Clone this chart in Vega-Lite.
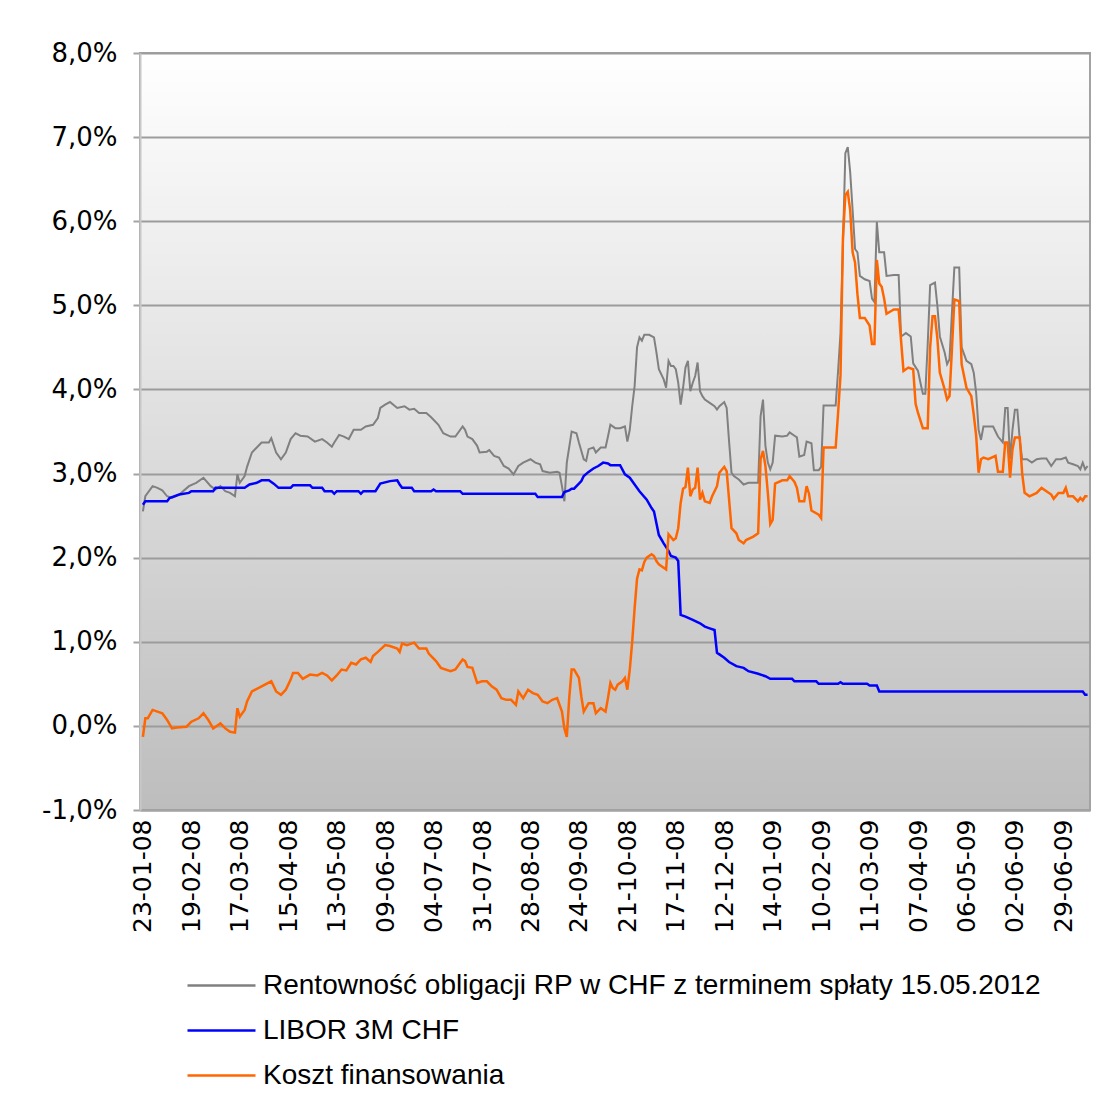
{
  "$schema": "https://vega.github.io/schema/vega-lite/v6.json",
  "width": 950,
  "height": 757,
  "autosize": {"type": "none"},
  "padding": {"left": 140, "top": 53, "right": 22, "bottom": 289},
  "background": "#ffffff",
  "config": {
    "font": "DejaVu Sans",
    "view": {
      "fill": {"gradient": "linear", "x1": 0, "y1": 0, "x2": 0, "y2": 1,
        "stops": [{"offset": 0, "color": "#ffffff"}, {"offset": 1, "color": "#bdbdbd"}]},
      "stroke": "#a3a3a3",
      "strokeWidth": 2
    }
  },
  "datasets": {
    "g": [
      {"i":0,"v":2.55},{"i":1,"v":2.73},{"i":4,"v":2.85},{"i":6,"v":2.83},{"i":8,"v":2.80},{"i":10,"v":2.73},{"i":12,"v":2.71},{"i":15,"v":2.75},{"i":19,"v":2.85},{"i":22,"v":2.89},{"i":25,"v":2.95},{"i":28,"v":2.85},{"i":30,"v":2.81},{"i":32,"v":2.85},{"i":34,"v":2.79},{"i":36,"v":2.77},{"i":38,"v":2.73},{"i":39,"v":2.99},{"i":40,"v":2.89},{"i":42,"v":2.97},{"i":43,"v":3.08},{"i":45,"v":3.25},{"i":47,"v":3.31},{"i":49,"v":3.37},{"i":52,"v":3.37},{"i":53,"v":3.42},{"i":55,"v":3.25},{"i":57,"v":3.17},{"i":59,"v":3.25},{"i":61,"v":3.41},{"i":63,"v":3.48},{"i":65,"v":3.45},{"i":68,"v":3.44},{"i":71,"v":3.38},{"i":74,"v":3.41},{"i":76,"v":3.37},{"i":78,"v":3.32},{"i":79,"v":3.37},{"i":81,"v":3.46},{"i":83,"v":3.44},{"i":85,"v":3.41},{"i":87,"v":3.52},{"i":90,"v":3.52},{"i":92,"v":3.56},{"i":95,"v":3.58},{"i":97,"v":3.66},{"i":98,"v":3.78},{"i":100,"v":3.82},{"i":102,"v":3.85},{"i":105,"v":3.78},{"i":108,"v":3.80},{"i":110,"v":3.76},{"i":112,"v":3.77},{"i":114,"v":3.72},{"i":117,"v":3.72},{"i":119,"v":3.67},{"i":122,"v":3.58},{"i":124,"v":3.48},{"i":127,"v":3.44},{"i":129,"v":3.44},{"i":132,"v":3.56},{"i":133,"v":3.52},{"i":134,"v":3.44},{"i":136,"v":3.41},{"i":138,"v":3.33},{"i":139,"v":3.25},{"i":142,"v":3.26},{"i":143,"v":3.28},{"i":145,"v":3.21},{"i":147,"v":3.19},{"i":149,"v":3.09},{"i":151,"v":3.06},{"i":153,"v":2.99},{"i":155,"v":3.09},{"i":157,"v":3.13},{"i":160,"v":3.17},{"i":162,"v":3.13},{"i":164,"v":3.11},{"i":165,"v":3.03},{"i":168,"v":3.01},{"i":171,"v":3.02},{"i":172,"v":3.01},{"i":173,"v":2.85},{"i":174,"v":2.67},{"i":175,"v":3.13},{"i":177,"v":3.50},{"i":179,"v":3.48},{"i":180,"v":3.37},{"i":182,"v":3.17},{"i":183,"v":3.15},{"i":184,"v":3.29},{"i":186,"v":3.31},{"i":187,"v":3.25},{"i":189,"v":3.31},{"i":191,"v":3.31},{"i":192,"v":3.44},{"i":193,"v":3.58},{"i":195,"v":3.54},{"i":197,"v":3.54},{"i":199,"v":3.56},{"i":200,"v":3.38},{"i":201,"v":3.52},{"i":202,"v":3.80},{"i":203,"v":4.04},{"i":204,"v":4.50},{"i":205,"v":4.62},{"i":206,"v":4.58},{"i":207,"v":4.65},{"i":209,"v":4.65},{"i":211,"v":4.62},{"i":212,"v":4.44},{"i":213,"v":4.24},{"i":215,"v":4.12},{"i":216,"v":4.02},{"i":217,"v":4.34},{"i":218,"v":4.28},{"i":219,"v":4.28},{"i":220,"v":4.24},{"i":221,"v":4.08},{"i":222,"v":3.82},{"i":223,"v":4.02},{"i":224,"v":4.26},{"i":225,"v":4.34},{"i":226,"v":3.98},{"i":227,"v":4.08},{"i":228,"v":4.16},{"i":229,"v":4.32},{"i":230,"v":3.98},{"i":231,"v":3.92},{"i":232,"v":3.88},{"i":234,"v":3.84},{"i":236,"v":3.80},{"i":237,"v":3.76},{"i":238,"v":3.80},{"i":240,"v":3.85},{"i":241,"v":3.78},{"i":242,"v":3.38},{"i":243,"v":3.01},{"i":244,"v":2.97},{"i":246,"v":2.93},{"i":248,"v":2.87},{"i":250,"v":2.89},{"i":254,"v":2.89},{"i":255,"v":3.68},{"i":256,"v":3.88},{"i":257,"v":3.33},{"i":258,"v":3.13},{"i":259,"v":3.05},{"i":260,"v":3.13},{"i":261,"v":3.45},{"i":264,"v":3.44},{"i":266,"v":3.45},{"i":267,"v":3.49},{"i":269,"v":3.45},{"i":270,"v":3.43},{"i":271,"v":3.20},{"i":273,"v":3.22},{"i":274,"v":3.38},{"i":276,"v":3.36},{"i":277,"v":3.04},{"i":279,"v":3.04},{"i":280,"v":3.08},{"i":281,"v":3.81},{"i":283,"v":3.81},{"i":286,"v":3.81},{"i":287,"v":4.22},{"i":288,"v":4.67},{"i":289,"v":5.72},{"i":290,"v":6.81},{"i":291,"v":6.88},{"i":292,"v":6.58},{"i":293,"v":6.13},{"i":294,"v":5.67},{"i":295,"v":5.63},{"i":296,"v":5.35},{"i":298,"v":5.31},{"i":300,"v":5.29},{"i":301,"v":5.08},{"i":302,"v":5.04},{"i":303,"v":5.99},{"i":304,"v":5.63},{"i":306,"v":5.63},{"i":307,"v":5.35},{"i":310,"v":5.36},{"i":312,"v":5.36},{"i":313,"v":4.63},{"i":315,"v":4.67},{"i":317,"v":4.63},{"i":318,"v":4.31},{"i":320,"v":4.22},{"i":321,"v":4.08},{"i":322,"v":3.95},{"i":323,"v":3.95},{"i":324,"v":4.54},{"i":325,"v":5.24},{"i":327,"v":5.27},{"i":328,"v":4.99},{"i":329,"v":4.63},{"i":331,"v":4.44},{"i":332,"v":4.30},{"i":333,"v":4.36},{"i":334,"v":4.91},{"i":335,"v":5.45},{"i":337,"v":5.45},{"i":338,"v":4.50},{"i":340,"v":4.34},{"i":342,"v":4.30},{"i":343,"v":4.20},{"i":344,"v":3.96},{"i":345,"v":3.52},{"i":346,"v":3.40},{"i":347,"v":3.56},{"i":351,"v":3.56},{"i":353,"v":3.44},{"i":355,"v":3.37},{"i":356,"v":3.78},{"i":357,"v":3.78},{"i":358,"v":3.17},{"i":359,"v":3.52},{"i":360,"v":3.76},{"i":361,"v":3.76},{"i":362,"v":3.40},{"i":363,"v":3.17},{"i":365,"v":3.17},{"i":367,"v":3.13},{"i":369,"v":3.17},{"i":371,"v":3.18},{"i":373,"v":3.18},{"i":375,"v":3.09},{"i":377,"v":3.17},{"i":379,"v":3.17},{"i":381,"v":3.19},{"i":382,"v":3.13},{"i":384,"v":3.11},{"i":386,"v":3.09},{"i":387,"v":3.05},{"i":388,"v":3.13},{"i":389,"v":3.05},{"i":390,"v":3.09}
    ],
    "b": [
      {"i":0,"v":2.63},{"i":1,"v":2.67},{"i":10,"v":2.67},{"i":11,"v":2.71},{"i":15,"v":2.75},{"i":19,"v":2.77},{"i":20,"v":2.79},{"i":29,"v":2.79},{"i":30,"v":2.83},{"i":42,"v":2.83},{"i":44,"v":2.87},{"i":47,"v":2.89},{"i":49,"v":2.92},{"i":52,"v":2.92},{"i":54,"v":2.88},{"i":56,"v":2.83},{"i":61,"v":2.83},{"i":62,"v":2.86},{"i":69,"v":2.86},{"i":70,"v":2.83},{"i":74,"v":2.83},{"i":75,"v":2.79},{"i":78,"v":2.79},{"i":79,"v":2.76},{"i":80,"v":2.79},{"i":89,"v":2.79},{"i":90,"v":2.76},{"i":91,"v":2.79},{"i":96,"v":2.79},{"i":98,"v":2.88},{"i":102,"v":2.91},{"i":105,"v":2.92},{"i":106,"v":2.87},{"i":107,"v":2.83},{"i":111,"v":2.83},{"i":112,"v":2.79},{"i":119,"v":2.79},{"i":120,"v":2.81},{"i":121,"v":2.79},{"i":131,"v":2.79},{"i":132,"v":2.76},{"i":162,"v":2.76},{"i":163,"v":2.72},{"i":173,"v":2.72},{"i":174,"v":2.78},{"i":176,"v":2.80},{"i":177,"v":2.82},{"i":178,"v":2.82},{"i":180,"v":2.88},{"i":181,"v":2.91},{"i":182,"v":2.97},{"i":184,"v":3.02},{"i":186,"v":3.06},{"i":188,"v":3.09},{"i":190,"v":3.13},{"i":192,"v":3.12},{"i":193,"v":3.10},{"i":197,"v":3.10},{"i":199,"v":2.99},{"i":201,"v":2.95},{"i":203,"v":2.87},{"i":205,"v":2.79},{"i":208,"v":2.69},{"i":210,"v":2.59},{"i":211,"v":2.55},{"i":212,"v":2.41},{"i":213,"v":2.27},{"i":215,"v":2.17},{"i":217,"v":2.08},{"i":218,"v":2.02},{"i":220,"v":2.00},{"i":221,"v":1.96},{"i":222,"v":1.32},{"i":224,"v":1.30},{"i":227,"v":1.26},{"i":230,"v":1.22},{"i":232,"v":1.18},{"i":234,"v":1.16},{"i":236,"v":1.14},{"i":237,"v":0.87},{"i":238,"v":0.85},{"i":240,"v":0.81},{"i":242,"v":0.76},{"i":245,"v":0.71},{"i":248,"v":0.69},{"i":250,"v":0.65},{"i":254,"v":0.62},{"i":257,"v":0.59},{"i":259,"v":0.56},{"i":268,"v":0.56},{"i":269,"v":0.53},{"i":278,"v":0.53},{"i":279,"v":0.50},{"i":287,"v":0.50},{"i":288,"v":0.52},{"i":289,"v":0.50},{"i":299,"v":0.50},{"i":300,"v":0.48},{"i":303,"v":0.48},{"i":304,"v":0.41},{"i":388,"v":0.41},{"i":389,"v":0.37},{"i":390,"v":0.37}
    ],
    "o": [
      {"i":0,"v":-0.13},{"i":1,"v":0.09},{"i":2,"v":0.09},{"i":4,"v":0.19},{"i":6,"v":0.17},{"i":8,"v":0.15},{"i":10,"v":0.07},{"i":12,"v":-0.03},{"i":14,"v":-0.02},{"i":18,"v":-0.01},{"i":20,"v":0.05},{"i":23,"v":0.09},{"i":25,"v":0.15},{"i":27,"v":0.07},{"i":29,"v":-0.03},{"i":32,"v":0.03},{"i":34,"v":-0.03},{"i":36,"v":-0.07},{"i":38,"v":-0.08},{"i":39,"v":0.21},{"i":40,"v":0.11},{"i":42,"v":0.19},{"i":43,"v":0.29},{"i":45,"v":0.41},{"i":49,"v":0.47},{"i":53,"v":0.53},{"i":55,"v":0.41},{"i":57,"v":0.37},{"i":59,"v":0.43},{"i":61,"v":0.55},{"i":62,"v":0.63},{"i":64,"v":0.63},{"i":66,"v":0.56},{"i":69,"v":0.61},{"i":72,"v":0.60},{"i":74,"v":0.63},{"i":76,"v":0.60},{"i":78,"v":0.54},{"i":80,"v":0.60},{"i":82,"v":0.67},{"i":84,"v":0.66},{"i":86,"v":0.75},{"i":88,"v":0.73},{"i":90,"v":0.79},{"i":92,"v":0.81},{"i":94,"v":0.76},{"i":95,"v":0.83},{"i":97,"v":0.88},{"i":100,"v":0.96},{"i":102,"v":0.95},{"i":105,"v":0.92},{"i":106,"v":0.88},{"i":107,"v":0.98},{"i":109,"v":0.96},{"i":112,"v":0.99},{"i":114,"v":0.92},{"i":117,"v":0.92},{"i":118,"v":0.86},{"i":121,"v":0.77},{"i":123,"v":0.69},{"i":127,"v":0.65},{"i":129,"v":0.67},{"i":131,"v":0.75},{"i":132,"v":0.79},{"i":133,"v":0.77},{"i":134,"v":0.70},{"i":136,"v":0.69},{"i":138,"v":0.51},{"i":140,"v":0.53},{"i":142,"v":0.53},{"i":144,"v":0.47},{"i":146,"v":0.43},{"i":148,"v":0.33},{"i":150,"v":0.31},{"i":152,"v":0.31},{"i":154,"v":0.25},{"i":155,"v":0.41},{"i":157,"v":0.33},{"i":159,"v":0.43},{"i":161,"v":0.39},{"i":163,"v":0.37},{"i":165,"v":0.29},{"i":167,"v":0.27},{"i":169,"v":0.31},{"i":171,"v":0.33},{"i":173,"v":0.17},{"i":174,"v":-0.03},{"i":175,"v":-0.13},{"i":176,"v":0.33},{"i":177,"v":0.67},{"i":178,"v":0.67},{"i":180,"v":0.57},{"i":181,"v":0.35},{"i":182,"v":0.17},{"i":184,"v":0.27},{"i":186,"v":0.27},{"i":187,"v":0.15},{"i":189,"v":0.21},{"i":191,"v":0.17},{"i":192,"v":0.33},{"i":193,"v":0.51},{"i":194,"v":0.45},{"i":195,"v":0.43},{"i":196,"v":0.49},{"i":198,"v":0.53},{"i":199,"v":0.57},{"i":200,"v":0.43},{"i":201,"v":0.67},{"i":202,"v":1.00},{"i":203,"v":1.40},{"i":204,"v":1.75},{"i":205,"v":1.86},{"i":206,"v":1.85},{"i":207,"v":1.95},{"i":208,"v":2.00},{"i":210,"v":2.04},{"i":211,"v":2.02},{"i":212,"v":1.96},{"i":213,"v":1.92},{"i":215,"v":1.88},{"i":216,"v":1.86},{"i":217,"v":2.28},{"i":219,"v":2.21},{"i":220,"v":2.23},{"i":221,"v":2.35},{"i":222,"v":2.65},{"i":223,"v":2.82},{"i":224,"v":2.84},{"i":225,"v":3.07},{"i":226,"v":2.73},{"i":227,"v":2.81},{"i":228,"v":2.83},{"i":229,"v":3.07},{"i":230,"v":2.69},{"i":231,"v":2.77},{"i":232,"v":2.67},{"i":234,"v":2.65},{"i":235,"v":2.73},{"i":237,"v":2.85},{"i":238,"v":3.01},{"i":240,"v":3.08},{"i":241,"v":3.03},{"i":242,"v":2.69},{"i":243,"v":2.35},{"i":245,"v":2.29},{"i":246,"v":2.21},{"i":248,"v":2.17},{"i":249,"v":2.21},{"i":252,"v":2.25},{"i":254,"v":2.29},{"i":255,"v":3.17},{"i":256,"v":3.27},{"i":257,"v":3.09},{"i":258,"v":2.77},{"i":259,"v":2.40},{"i":260,"v":2.45},{"i":261,"v":2.88},{"i":264,"v":2.92},{"i":266,"v":2.92},{"i":267,"v":2.97},{"i":269,"v":2.90},{"i":270,"v":2.83},{"i":271,"v":2.67},{"i":273,"v":2.67},{"i":274,"v":2.85},{"i":275,"v":2.76},{"i":276,"v":2.56},{"i":279,"v":2.51},{"i":280,"v":2.47},{"i":281,"v":3.31},{"i":286,"v":3.31},{"i":287,"v":3.72},{"i":288,"v":4.17},{"i":289,"v":5.80},{"i":290,"v":6.31},{"i":291,"v":6.35},{"i":292,"v":6.13},{"i":293,"v":5.63},{"i":294,"v":5.51},{"i":295,"v":5.13},{"i":296,"v":4.85},{"i":298,"v":4.85},{"i":300,"v":4.76},{"i":301,"v":4.54},{"i":302,"v":4.54},{"i":303,"v":5.54},{"i":304,"v":5.26},{"i":305,"v":5.22},{"i":306,"v":5.08},{"i":307,"v":4.90},{"i":310,"v":4.95},{"i":312,"v":4.95},{"i":313,"v":4.58},{"i":314,"v":4.22},{"i":316,"v":4.26},{"i":318,"v":4.24},{"i":319,"v":3.83},{"i":320,"v":3.72},{"i":322,"v":3.54},{"i":324,"v":3.54},{"i":325,"v":4.50},{"i":326,"v":4.87},{"i":327,"v":4.87},{"i":328,"v":4.60},{"i":329,"v":4.20},{"i":331,"v":4.00},{"i":332,"v":3.88},{"i":333,"v":3.92},{"i":334,"v":4.48},{"i":335,"v":5.07},{"i":337,"v":5.05},{"i":338,"v":4.30},{"i":340,"v":4.02},{"i":342,"v":3.92},{"i":343,"v":3.70},{"i":344,"v":3.45},{"i":345,"v":3.01},{"i":346,"v":3.17},{"i":347,"v":3.19},{"i":349,"v":3.17},{"i":352,"v":3.21},{"i":353,"v":3.02},{"i":355,"v":3.02},{"i":356,"v":3.37},{"i":357,"v":3.37},{"i":358,"v":2.95},{"i":359,"v":3.29},{"i":360,"v":3.43},{"i":362,"v":3.43},{"i":363,"v":3.00},{"i":364,"v":2.77},{"i":366,"v":2.73},{"i":369,"v":2.77},{"i":371,"v":2.83},{"i":373,"v":2.79},{"i":375,"v":2.75},{"i":376,"v":2.70},{"i":378,"v":2.77},{"i":380,"v":2.77},{"i":381,"v":2.83},{"i":382,"v":2.73},{"i":384,"v":2.73},{"i":386,"v":2.67},{"i":387,"v":2.71},{"i":388,"v":2.68},{"i":389,"v":2.73},{"i":390,"v":2.73}
    ]
  },
  "encoding": {
    "x": {
      "field": "i", "type": "quantitative",
      "scale": {"domain": [-1.2, 391], "nice": false, "zero": false},
      "axis": {
        "title": null,
        "values": [0,20,40,60,80,100,120,140,160,180,200,220,240,260,280,300,320,340,360,380],
        "labelExpr": "['23-01-08','19-02-08','17-03-08','15-04-08','13-05-08','09-06-08','04-07-08','31-07-08','28-08-08','24-09-08','21-10-08','17-11-08','12-12-08','14-01-09','10-02-09','11-03-09','07-04-09','06-05-09','02-06-09','29-06-09'][round(datum.value/20)]",
        "labelAngle": 270,
        "labelAlign": "right",
        "labelBaseline": "middle",
        "labelFontSize": 25,
        "labelColor": "#000000",
        "labelPadding": 9,
        "labelOverlap": false,
        "labelFlush": false,
        "ticks": false,
        "grid": false,
        "domainColor": "#a3a3a3",
        "domainWidth": 2
      }
    },
    "y": {
      "field": "v", "type": "quantitative",
      "scale": {"domain": [-1, 8], "nice": false, "zero": false},
      "axis": {
        "title": null,
        "values": [-1,0,1,2,3,4,5,6,7,8],
        "labelExpr": "(datum.value < 0 ? '-' : '') + replace(format(abs(datum.value), '.1f'), '.', ',') + '%'",
        "labelFontSize": 26,
        "labelColor": "#000000",
        "labelPadding": 16,
        "labelOverlap": false,
        "labelFlush": false,
        "tickSize": 7,
        "tickColor": "#a3a3a3",
        "tickWidth": 2,
        "grid": true,
        "gridColor": "#9c9c9c",
        "gridWidth": 2,
        "domainColor": "#c8c8c8",
        "domainWidth": 2
      }
    }
  },
  "layer": [
    {
      "data": {"name": "g"},
      "mark": {"type": "line", "strokeWidth": 2},
      "encoding": {
        "color": {
          "datum": "Rentowność obligacji RP w CHF z terminem spłaty 15.05.2012",
          "type": "nominal",
          "scale": {
            "domain": ["Rentowność obligacji RP w CHF z terminem spłaty 15.05.2012", "LIBOR 3M CHF", "Koszt finansowania"],
            "range": ["#808080", "#0000ff", "#ff6600"]
          },
          "legend": {
            "title": null,
            "orient": "none",
            "legendX": 63,
            "legendY": 914,
            "direction": "vertical",
            "symbolType": "M-2,0H2",
            "symbolSize": 1156,
            "symbolStrokeWidth": 2.5,
            "labelFont": "Liberation Sans",
            "labelFontSize": 28,
            "labelColor": "#000000",
            "labelOffset": 23,
            "labelLimit": 1000,
            "rowPadding": 12
          }
        }
      }
    },
    {
      "data": {"name": "b"},
      "mark": {"type": "line", "strokeWidth": 2.5},
      "encoding": {"color": {"datum": "LIBOR 3M CHF", "type": "nominal"}}
    },
    {
      "data": {"name": "o"},
      "mark": {"type": "line", "strokeWidth": 2.5},
      "encoding": {"color": {"datum": "Koszt finansowania", "type": "nominal"}}
    }
  ]
}
